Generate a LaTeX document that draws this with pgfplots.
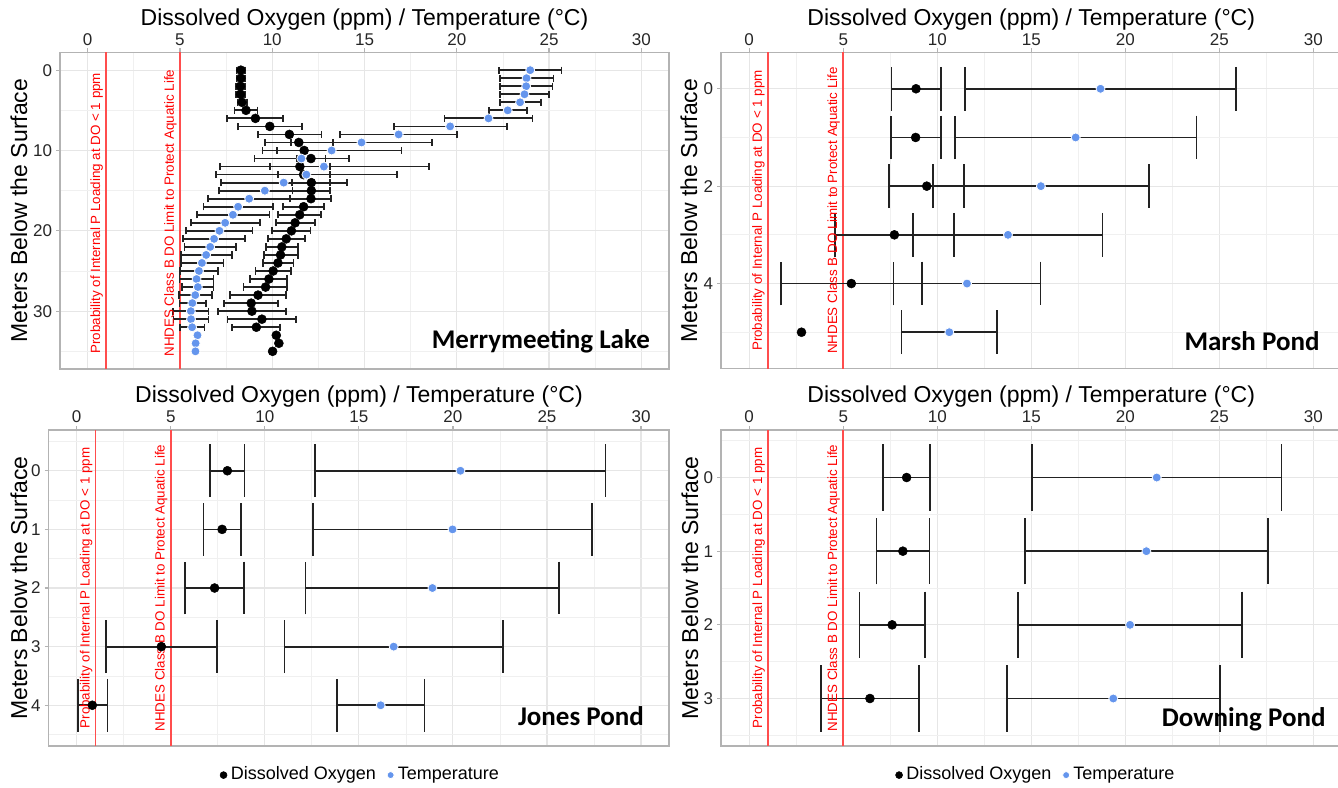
\documentclass[border=0pt]{standalone}
\usepackage{fontspec}
\setmainfont{Liberation Sans}
\newfontfamily\titlefont{Carlito}
\usepackage{pgfplots}
\pgfplotsset{compat=1.18}
\usepackage{pgfplotstable}

\definecolor{tblue}{HTML}{6495ED}
\definecolor{gridc}{HTML}{E6E6E6}
\definecolor{borderc}{HTML}{B3B3B3}
\definecolor{refred}{HTML}{FF0000}
\definecolor{refline}{HTML}{FF4D4D}
\definecolor{barc}{HTML}{222222}

\pgfplotstableread{
d do dolo dohi t tlo thi
0 8.30 8.06 8.54 23.98 22.28 25.68
1 8.30 8.06 8.54 23.78 22.33 25.24
2 8.28 8.05 8.52 23.76 22.33 25.19
3 8.28 8.05 8.52 23.67 22.33 25.00
4 8.36 8.12 8.62 23.43 22.33 24.57
5 8.58 7.95 9.20 22.76 21.75 23.80
6 9.09 7.55 10.60 21.72 19.34 24.10
7 9.87 8.13 11.60 19.64 16.60 22.72
8 10.93 9.22 12.67 16.85 13.68 20.00
9 11.44 9.60 13.30 14.84 11.00 18.67
10 11.73 10.25 13.20 13.22 9.47 17.00
11 12.10 11.33 12.89 11.58 9.04 14.14
12 11.50 9.87 13.15 12.80 7.15 18.48
13 11.70 10.30 13.13 11.85 6.95 16.78
14 12.12 11.07 13.15 10.62 7.22 14.05
15 12.12 11.10 13.15 9.60 7.12 12.10
16 12.10 10.98 13.20 8.75 6.53 10.96
17 11.70 10.58 12.80 8.15 6.27 10.05
18 11.49 10.33 12.64 7.87 5.91 9.85
19 11.24 10.20 12.30 7.45 5.58 9.33
20 11.04 9.98 12.07 7.14 5.33 8.93
21 10.76 9.78 11.76 6.85 5.18 8.51
22 10.52 9.65 11.38 6.64 5.25 8.04
23 10.45 9.55 11.38 6.42 5.05 7.80
24 10.31 9.49 11.15 6.19 5.04 7.36
25 10.05 9.10 11.00 6.03 5.00 7.05
26 9.82 8.80 10.82 5.90 4.98 6.82
27 9.64 8.45 10.82 5.97 5.13 6.82
28 9.23 7.73 10.75 5.83 4.95 6.73
29 8.86 7.40 10.30 5.67 4.98 6.40
30 8.90 7.07 10.75 5.59 4.64 6.55
31 9.44 7.58 11.30 5.60 4.65 6.55
32 9.14 7.84 10.44 5.66 5.00 6.33
33 10.22 10.22 10.22 5.95 5.95 5.95
34 10.36 10.36 10.36 5.85 5.85 5.85
35 10.02 10.02 10.02 5.84 5.84 5.84
}\merry

\pgfplotstableread{
d do dolo dohi t tlo thi
0 8.87 7.56 10.19 18.68 11.48 25.88
1 8.85 7.52 10.19 17.36 10.93 23.79
2 9.44 7.45 11.41 15.51 9.78 21.24
3 7.72 4.57 10.87 13.76 8.72 18.79
4 5.43 1.70 9.17 11.58 7.67 15.49
5 2.78 2.78 2.78 10.64 8.10 13.18
}\marsh

\pgfplotstableread{
d do dolo dohi t tlo thi
0 8.01 7.08 8.92 20.40 12.66 28.11
1 7.73 6.74 8.74 19.98 12.55 27.41
2 7.33 5.76 8.90 18.91 12.16 25.64
3 4.50 1.57 7.44 16.85 11.05 22.65
4 0.83 0.05 1.63 16.16 13.82 18.49
}\jones

\pgfplotstableread{
d do dolo dohi t tlo thi
0 8.37 7.11 9.62 21.67 15.03 28.30
1 8.17 6.77 9.58 21.12 14.67 27.58
2 7.60 5.86 9.33 20.25 14.31 26.19
3 6.42 3.83 9.01 19.36 13.70 25.02
}\downing

\newcommand{\tickfont}{\fontsize{6.8pt}{8pt}\selectfont}
\newcommand{\labfont}{\fontsize{9.2pt}{11pt}\selectfont}
\newcommand{\redfont}{\fontsize{5.35pt}{6pt}\selectfont}
\newcommand{\ttlfont}{\titlefont\bfseries\fontsize{10.8pt}{12pt}\selectfont}

\tikzset{
  redlab/.style={rotate=90, anchor=south, text=refred, font=\redfont, inner sep=1.1pt},
  ttl/.style={anchor=base east, font=\ttlfont, inner sep=0pt},
}

\pgfplotsset{
  panel/.style={
    scale only axis,
    anchor=north west,
    y dir=reverse,
    xmin=-1.5, xmax=31.5,
    xtick={0,5,...,30},
    minor xtick={2.5,7.5,12.5,17.5,22.5,27.5},
    xtick pos=right, xticklabel pos=right, ytick pos=left,
    tick align=outside,
    major tick length=1.6pt,
    minor tick length=0pt,
    grid=both,
    major grid style={draw=gridc, line width=0.45pt},
    minor grid style={draw=gridc!60, line width=0.3pt},
    axis line style={draw=borderc, line width=0.6pt},
    every tick/.style={draw=borderc, line width=0.5pt},
    tick label style={font=\tickfont, text=black!85},
    /pgf/number format/assume math mode=true,
    xticklabel style={anchor=south, inner sep=0pt, yshift=1pt},
    yticklabel style={anchor=east, inner sep=0pt, xshift=-1.4pt},
  },
  ebar/.style={draw=none, mark=none, forget plot,
    error bars/.cd, x dir=both, x explicit, error mark=|,
    error bar style={draw=barc, line width=0.7pt},
    error mark options={draw=barc, line width=0.7pt, mark size=#1}},
  dopt/.style={only marks, mark=*, mark size=1.8pt, mark options={fill=black, draw=black, line width=0.2pt}},
  tpt/.style={only marks, mark=*, mark size=1.8pt, mark options={fill=tblue, draw=white, line width=0.3pt}},
  refl/.style={color=refline, line width=0.7pt, mark=none, forget plot},
  leg/.style={legend style={at={(#1,-0.092)}, anchor=center, draw=none, fill=none,
      font=\fontsize{7.2pt}{8.5pt}\selectfont, legend columns=2,
      /tikz/every even column/.append style={column sep=3pt},
      nodes={inner sep=1.5pt}},
    legend image code/.code={\draw[mark size=1.4pt,##1] plot coordinates {(0pt,0pt)};}},
}

\begin{document}
\begin{tikzpicture}
\path[use as bounding box] (0,0) rectangle (535.2pt,-315.2pt);

% ---------------- Merrymeeting Lake
\begin{axis}[panel, at={(24pt,-21pt)}, width=243.6pt, height=126.6pt,
  ymin=-2.2, ymax=37.2, ytick={0,10,20,30}, minor ytick={5,15,25,35}]
\addplot[refl] coordinates {(1,-2.2) (1,37.2)};
\addplot[refl] coordinates {(5,-2.2) (5,37.2)};
\addplot[ebar=1.445pt] table[x=do, y=d, x error plus expr=\thisrow{dohi}-\thisrow{do}, x error minus expr=\thisrow{do}-\thisrow{dolo}, skip coords between index={33}{36}] {\merry};
\addplot[ebar=1.445pt] table[x=t, y=d, x error plus expr=\thisrow{thi}-\thisrow{t}, x error minus expr=\thisrow{t}-\thisrow{tlo}, skip coords between index={33}{36}] {\merry};
\addplot[dopt] table[x=do, y=d] {\merry};
\addplot[tpt] table[x=t, y=d] {\merry};
\node[redlab] at (axis cs:1,17.8) {Probability of Internal P Loading at DO < 1 ppm};
\node[redlab] at (axis cs:5,17.8) {NHDES Class B DO Limit to Protect Aquatic Life};
\node[ttl] at ([xshift=-7.44pt, yshift=8.28pt]axis description cs:1,0) {Merrymeeting Lake};
\end{axis}

% ---------------- Marsh Pond
\begin{axis}[panel, at={(288.4pt,-21pt)}, width=248.24pt, height=126.4pt,
  ymin=-0.745, ymax=5.745, ytick={0,2,4}, minor ytick={1,3,5}]
\addplot[refl] coordinates {(1,-0.745) (1,5.745)};
\addplot[refl] coordinates {(5,-0.745) (5,5.745)};
\addplot[ebar=8.77pt] table[x=do, y=d, x error plus expr=\thisrow{dohi}-\thisrow{do}, x error minus expr=\thisrow{do}-\thisrow{dolo}, skip coords between index={5}{6}] {\marsh};
\addplot[ebar=8.77pt] table[x=t, y=d, x error plus expr=\thisrow{thi}-\thisrow{t}, x error minus expr=\thisrow{t}-\thisrow{tlo}] {\marsh};
\addplot[dopt] table[x=do, y=d] {\marsh};
\addplot[tpt] table[x=t, y=d] {\marsh};
\node[redlab] at (axis cs:1,2.5) {Probability of Internal P Loading at DO < 1 ppm};
\node[redlab] at (axis cs:5,2.5) {NHDES Class B DO Limit to Protect Aquatic Life};
\node[ttl] at ([xshift=-8.64pt, yshift=7.32pt]axis description cs:1,0) {Marsh Pond};
\end{axis}

% ---------------- Jones Pond
\begin{axis}[panel, leg=0.504, at={(19.4pt,-172pt)}, width=248.3pt, height=126.4pt,
  ymin=-0.695, ymax=4.695, ytick={0,1,2,3,4}, minor ytick={-0.5,0.5,1.5,2.5,3.5,4.5}]
\addplot[refl] coordinates {(1,-0.695) (1,4.695)};
\addplot[refl] coordinates {(5,-0.695) (5,4.695)};
\addplot[ebar=10.55pt] table[x=do, y=d, x error plus expr=\thisrow{dohi}-\thisrow{do}, x error minus expr=\thisrow{do}-\thisrow{dolo}] {\jones};
\addplot[ebar=10.55pt] table[x=t, y=d, x error plus expr=\thisrow{thi}-\thisrow{t}, x error minus expr=\thisrow{t}-\thisrow{tlo}] {\jones};
\addplot[dopt] table[x=do, y=d] {\jones};
\addlegendentry{Dissolved Oxygen}
\addplot[tpt] table[x=t, y=d] {\jones};
\addlegendentry{Temperature}
\node[redlab] at (axis cs:1,2) {Probability of Internal P Loading at DO < 1 ppm};
\node[redlab] at (axis cs:5,2) {NHDES Class B DO Limit to Protect Aquatic Life};
\node[ttl] at ([xshift=-9.96pt, yshift=8.12pt]axis description cs:1,0) {Jones Pond};
\end{axis}

% ---------------- Downing Pond
\begin{axis}[panel, leg=0.509, at={(288.4pt,-172pt)}, width=248.24pt, height=126.4pt,
  ymin=-0.645, ymax=3.645, ytick={0,1,2,3}, minor ytick={-0.5,0.5,1.5,2.5,3.5}]
\addplot[refl] coordinates {(1,-0.645) (1,3.645)};
\addplot[refl] coordinates {(5,-0.645) (5,3.645)};
\addplot[ebar=13.26pt] table[x=do, y=d, x error plus expr=\thisrow{dohi}-\thisrow{do}, x error minus expr=\thisrow{do}-\thisrow{dolo}] {\downing};
\addplot[ebar=13.26pt] table[x=t, y=d, x error plus expr=\thisrow{thi}-\thisrow{t}, x error minus expr=\thisrow{t}-\thisrow{tlo}] {\downing};
\addplot[dopt] table[x=do, y=d] {\downing};
\addlegendentry{Dissolved Oxygen}
\addplot[tpt] table[x=t, y=d] {\downing};
\addlegendentry{Temperature}
\node[redlab] at (axis cs:1,1.5) {Probability of Internal P Loading at DO < 1 ppm};
\node[redlab] at (axis cs:5,1.5) {NHDES Class B DO Limit to Protect Aquatic Life};
\node[ttl] at ([xshift=-6.24pt, yshift=7.72pt]axis description cs:1,0) {Downing Pond};
\end{axis}

% ---------------- axis titles
\node[font=\labfont] at (145.8pt,-8pt) {Dissolved Oxygen (ppm) / Temperature (°C)};
\node[font=\labfont] at (412.5pt,-8pt) {Dissolved Oxygen (ppm) / Temperature (°C)};
\node[font=\labfont] at (143.6pt,-158.7pt) {Dissolved Oxygen (ppm) / Temperature (°C)};
\node[font=\labfont] at (412.5pt,-158.7pt) {Dissolved Oxygen (ppm) / Temperature (°C)};
\node[font=\labfont, rotate=90] at (7.6pt,-84.2pt) {Meters Below the Surface};
\node[font=\labfont, rotate=90] at (275.6pt,-84.2pt) {Meters Below the Surface};
\node[font=\labfont, rotate=90] at (7.6pt,-235.2pt) {Meters Below the Surface};
\node[font=\labfont, rotate=90] at (276pt,-235.2pt) {Meters Below the Surface};
\end{tikzpicture}
\end{document}
